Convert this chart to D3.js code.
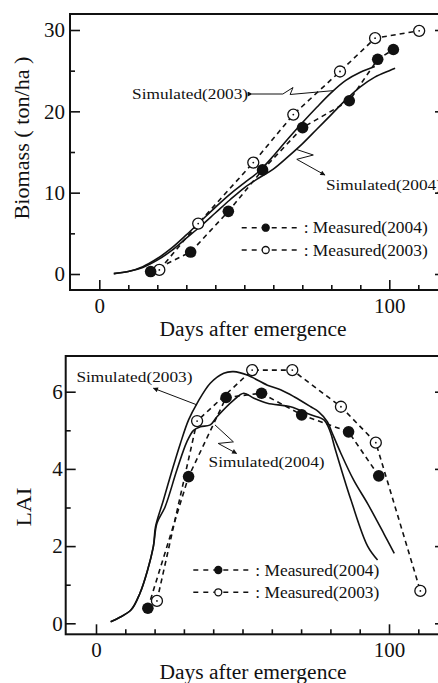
<!DOCTYPE html>
<html>
<head>
<meta charset="utf-8">
<script src="https://cdn.jsdelivr.net/npm/d3@7"></script>
<style>
  body { margin: 0; background: #fff; }
  svg { display: block; }
  text { font-family: "Liberation Serif", "Times New Roman", serif; fill: #111; }
</style>
</head>
<body>
<svg id="chart" width="438" height="683"></svg>
<script>
// ---- biomass panel data ----
const bmMeas04Days = [17.7, 31.5, 44.5, 56.3, 70.1, 86.2, 96.0, 101.4];
const bmMeas04 = [0.3, 2.7, 7.7, 12.8, 18.0, 21.3, 26.4, 27.6];
const bmMeas03Days = [20.7, 34.1, 53.1, 66.9, 83.0, 95.1, 110.3];
const bmMeas03 = [0.5, 6.2, 13.7, 19.6, 24.9, 29.0, 29.9];
const bmSim03Days = [5, 10, 15, 20, 25, 30, 35, 40, 45, 50, 55, 60, 65, 70, 75, 80, 85, 90, 95];
const bmSim03 = [0.05, 0.3, 0.9, 1.9, 3.2, 4.8, 6.5, 8.2, 9.8, 11.2, 12.6, 14.5, 16.6, 18.6, 20.5, 22.3, 23.8, 24.8, 25.5];
const bmSim04Days = [5, 10, 15, 20, 25, 30, 35, 40, 45, 50, 55, 60, 65, 70, 75, 80, 85, 90, 95, 100, 102];
const bmSim04 = [0.05, 0.3, 0.8, 1.7, 2.9, 4.4, 5.9, 7.5, 9.1, 10.6, 11.8, 12.9, 14.4, 16.0, 17.8, 19.6, 21.4, 23.0, 24.2, 25.0, 25.3];

// ---- LAI panel data ----
const laiMeas04Days = [17.7, 31.6, 44.4, 56.5, 70.2, 86.2, 96.5];
const laiMeas04 = [0.39, 3.8, 5.85, 5.96, 5.4, 4.96, 3.82];
const laiMeas03Days = [20.8, 34.5, 53.3, 67.0, 83.6, 95.5, 110.7];
const laiMeas03 = [0.58, 5.24, 6.56, 6.56, 5.61, 4.68, 0.84];
const laiSim03Days = [5, 8, 12, 15, 17.5, 19.6, 20.3, 23, 26, 28.8, 31.6, 34.5, 39, 43.6, 47, 51.6, 58.5, 63, 67.6, 73.3, 76, 79, 80.5, 83.6, 88, 92.7, 98.4, 101.8];
const laiSim03 = [0.04, 0.15, 0.35, 0.78, 1.35, 2.0, 2.5, 3.19, 3.97, 4.66, 5.27, 5.7, 6.22, 6.48, 6.52, 6.43, 6.17, 6.05, 5.87, 5.61, 5.48, 5.22, 4.95, 4.4, 3.7, 3.1, 2.3, 1.81];
const laiSim04Days = [5, 8, 12, 15, 17.5, 19.6, 20.8, 23.6, 27.6, 31, 33.3, 35.6, 39, 41.3, 47, 50.4, 53.9, 58.5, 66.4, 73.3, 77.8, 80, 81.5, 87, 92.7, 96.1];
const laiSim04 = [0.04, 0.15, 0.35, 0.78, 1.35, 2.0, 2.59, 3.02, 3.97, 4.7, 5.0, 5.09, 5.14, 5.35, 5.78, 5.96, 5.83, 5.7, 5.61, 5.4, 5.27, 4.95, 4.55, 3.2, 2.0, 1.64];

// ---- ticks / labels ----
const xMajor = [0, 100];
const xMinor = [10, 20, 30, 40, 50, 60, 70, 80, 90, 110];
const bmMajor = [0, 10, 20, 30];
const bmMinor = [5, 15, 25];
const laiMajor = [0, 2, 4, 6];
const laiMinor = [1, 3, 5];
const xLabel = "Days after emergence";
const bmLabel = "Biomass ( ton/ha )";
const laiLabel = "LAI";
const legendLabels = [": Measured(2004)", ": Measured(2003)"];
const simLabels = ["Simulated(2003)", "Simulated(2004)"];

const zip = (xs, ys) => xs.map((d, i) => [d, ys[i]]);

const svg = d3.select('#chart');

const defs = svg.append('defs');
defs.append('marker')
    .attr('id', 'arrow')
    .attr('viewBox', '0 0 10 10')
    .attr('refX', 9).attr('refY', 5)
    .attr('markerWidth', 7).attr('markerHeight', 5)
    .attr('markerUnits', 'userSpaceOnUse')
    .attr('orient', 'auto')
    .append('path')
    .attr('d', 'M0,0L10,5L0,10Z')
    .attr('fill', '#111');

function drawPanel(cfg) {
    const g = svg.append('g');
    const x = d3.scaleLinear().domain([0, 100]).range(cfg.xRange);
    const y = d3.scaleLinear().domain(cfg.yDomain).range(cfg.yRange);
    const f = cfg.frame;
    const fmt = d3.format('d');

    // axes with inward ticks
    const bottom = g.append('g').attr('transform', `translate(0,${f.y1})`);
    bottom.append('g').call(d3.axisBottom(x).tickValues(xMajor).tickFormat(fmt).tickSizeInner(-10).tickSizeOuter(0).tickPadding(cfg.xPad));
    bottom.append('g').call(d3.axisBottom(x).tickValues(xMinor).tickSizeInner(-5).tickSizeOuter(0).tickFormat(''));

    const left = g.append('g').attr('transform', `translate(${f.x0},0)`);
    left.append('g').call(d3.axisLeft(y).tickValues(cfg.yMajor).tickFormat(fmt).tickSizeInner(-10).tickSizeOuter(0).tickPadding(cfg.yPad));
    left.append('g').call(d3.axisLeft(y).tickValues(cfg.yMinor).tickSizeInner(-5).tickSizeOuter(0).tickFormat(''));

    const right = g.append('g').attr('transform', `translate(${f.x1},0)`);
    right.append('g').call(d3.axisRight(y).tickValues(cfg.yMajor).tickSizeInner(-10).tickSizeOuter(0).tickFormat(''));
    right.append('g').call(d3.axisRight(y).tickValues(cfg.yMinor).tickSizeInner(-5).tickSizeOuter(0).tickFormat(''));

    g.selectAll('.domain').remove();
    g.selectAll('.tick line').attr('stroke', '#111').attr('stroke-width', 1.6);
    g.selectAll('.tick text')
        .style('font-family', '"Liberation Serif", "Times New Roman", serif')
        .style('font-size', '21px').attr('fill', '#111');

    g.append('rect')
        .attr('x', f.x0).attr('y', f.y0)
        .attr('width', f.x1 - f.x0).attr('height', f.y1 - f.y0)
        .attr('fill', 'none').attr('stroke', '#111').attr('stroke-width', 2);

    // axis titles
    g.append('text')
        .attr('x', cfg.xTitle[0]).attr('y', cfg.xTitle[1])
        .attr('text-anchor', 'middle')
        .style('font-size', '20px')
        .attr('textLength', 187).attr('lengthAdjust', 'spacingAndGlyphs')
        .text(xLabel);
    g.append('text')
        .attr('transform', `translate(${cfg.yTitle[0]},${cfg.yTitle[1]}) rotate(-90)`)
        .attr('text-anchor', 'middle')
        .style('font-size', '21px')
        .attr('textLength', cfg.yTitleLen).attr('lengthAdjust', 'spacingAndGlyphs')
        .text(cfg.yLabel);

    const simLine = d3.line().x(d => x(d[0])).y(d => y(d[1])).curve(d3.curveCatmullRom.alpha(0.5));
    const measLine = d3.line().x(d => x(d[0])).y(d => y(d[1]));

    cfg.sims.forEach(s => {
        g.append('path').attr('d', simLine(s))
            .attr('fill', 'none').attr('stroke', '#111').attr('stroke-width', 1.6);
    });

    [cfg.meas04, cfg.meas03].forEach(m => {
        g.append('path').attr('d', measLine(m))
            .attr('fill', 'none').attr('stroke', '#111').attr('stroke-width', 1.6)
            .attr('stroke-dasharray', '5,4');
    });

    g.selectAll('circle.m03').data(cfg.meas03).join('circle')
        .attr('class', 'm03')
        .attr('cx', d => x(d[0])).attr('cy', d => y(d[1])).attr('r', 5.5)
        .attr('fill', '#fff').attr('stroke', '#111').attr('stroke-width', 1.3);
    g.selectAll('circle.m03c').data(cfg.meas03).join('circle')
        .attr('class', 'm03c')
        .attr('cx', d => x(d[0])).attr('cy', d => y(d[1])).attr('r', 0.9)
        .attr('fill', '#111');
    g.selectAll('circle.m04').data(cfg.meas04).join('circle')
        .attr('class', 'm04')
        .attr('cx', d => x(d[0])).attr('cy', d => y(d[1])).attr('r', 5.8)
        .attr('fill', '#111');

    // annotations
    cfg.notes.forEach(n => {
        const pts = n.path.map(p => [x(p[0]), y(p[1])]);
        g.append('path').attr('d', d3.line()(pts))
            .attr('fill', 'none').attr('stroke', '#111').attr('stroke-width', 1)
            .attr('marker-end', n.arrowEnd ? 'url(#arrow)' : null)
            .attr('marker-start', n.arrowEnd ? null : 'url(#arrow)');
        const a = n.arrowEnd ? pts[pts.length - 1] : pts[0];
        g.append('text')
            .attr('x', a[0] + n.dx).attr('y', a[1] + n.dy)
            .attr('text-anchor', n.anchor)
            .style('font-size', '15px')
            .attr('textLength', 116).attr('lengthAdjust', 'spacingAndGlyphs')
            .text(n.label);
    });

    // legend
    const lg = cfg.legend;
    [cfg.meas04, cfg.meas03].forEach((m, i) => {
        const ly = lg.y[i];
        g.append('line')
            .attr('x1', lg.x0).attr('x2', lg.x1).attr('y1', ly).attr('y2', ly)
            .attr('stroke', '#111').attr('stroke-width', 1.6).attr('stroke-dasharray', '5,5');
        g.append('circle')
            .attr('cx', lg.xm).attr('cy', ly).attr('r', 3.5)
            .attr('fill', i === 0 ? '#111' : '#fff')
            .attr('stroke', '#111').attr('stroke-width', 1.3);
        g.append('text')
            .attr('x', lg.x1 + 2).attr('y', ly + 5.5)
            .style('font-size', '16px')
            .attr('textLength', 124).attr('lengthAdjust', 'spacingAndGlyphs')
            .text(legendLabels[i]);
    });
}

// Biomass panel
drawPanel({
    frame: { x0: 70, x1: 445, y0: 14, y1: 290 },
    xRange: [99.3, 389.3],
    yDomain: [0, 30], yRange: [274, 30],
    yMajor: bmMajor, yMinor: bmMinor,
    xPad: 8, yPad: 5,
    xTitle: [253, 336], yTitle: [29, 138], yTitleLen: 163, yLabel: bmLabel,
    sims: [zip(bmSim03Days, bmSim03), zip(bmSim04Days, bmSim04)],
    meas04: zip(bmMeas04Days, bmMeas04),
    meas03: zip(bmMeas03Days, bmMeas03),
    notes: [
        { label: simLabels[0], path: [[52.7, 22.13], [63.3, 22.13], [66.8, 22.93], [65.8, 22.07], [80.9, 22.55]], arrowEnd: false, dx: -4, dy: 5, anchor: 'end' },
        { label: simLabels[1], path: [[68.1, 15.3], [73.8, 14.63], [68.1, 14.1], [77.8, 12.17]], arrowEnd: true, dx: 1, dy: 15, anchor: 'start' }
    ],
    legend: { x0: 241.7, x1: 301.7, xm: 265.7, y: [227.7, 250] }
});

// LAI panel
drawPanel({
    frame: { x0: 65.7, x1: 445, y0: 356, y1: 634.3 },
    xRange: [96, 389],
    yDomain: [0, 6], yRange: [623.3, 391.7],
    yMajor: laiMajor, yMinor: laiMinor,
    xPad: 8, yPad: 3,
    xTitle: [253, 679], yTitle: [31, 507], yTitleLen: 39, yLabel: laiLabel,
    sims: [zip(laiSim03Days, laiSim03), zip(laiSim04Days, laiSim04)],
    meas04: zip(laiMeas04Days, laiMeas04),
    meas03: zip(laiMeas03Days, laiMeas03),
    notes: [
        { label: simLabels[0], path: [[34.4, 5.66], [19.6, 6.09]], arrowEnd: true, dx: 39, dy: -6, anchor: 'end' },
        { label: simLabels[1], path: [[40.6, 5.14], [46.9, 4.70], [41.7, 4.66], [48.0, 4.40]], arrowEnd: true, dx: -28, dy: 14, anchor: 'start' }
    ],
    legend: { x0: 193.3, x1: 253.3, xm: 218.3, y: [570, 592.3] }
});
</script>
</body>
</html>
